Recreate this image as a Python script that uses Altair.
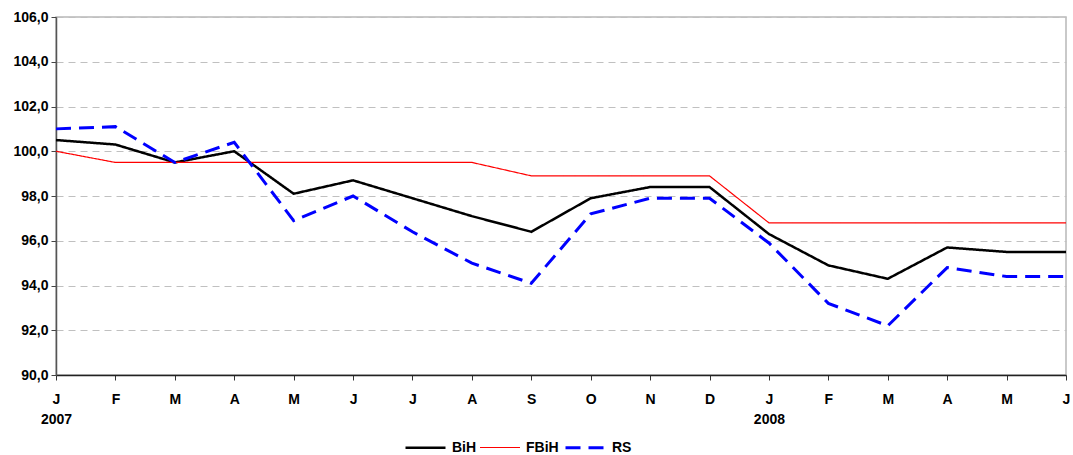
import json
import altair as alt
import pandas as pd

# Month letters along the x axis; the year is printed under each January
months = ["J", "F", "M", "A", "M", "J", "J", "A", "S", "O", "N", "D",
          "J", "F", "M", "A", "M", "J"]
years = {0: "2007", 12: "2008"}

series_names = ["BiH", "FBiH", "RS"]

bih = [100.5, 100.3, 99.5, 100.0, 98.1, 98.7, 97.9, 97.1, 96.4, 97.9, 98.4, 98.4,
       96.3, 94.9, 94.3, 95.7, 95.5, 95.5]
fbih = [100.0, 99.5, 99.5, 99.5, 99.5, 99.5, 99.5, 99.5, 98.9, 98.9, 98.9, 98.9,
        96.8, 96.8, 96.8, 96.8, 96.8, 96.8]
rs = [101.0, 101.1, 99.5, 100.4, 96.9, 98.0, 96.4, 95.0, 94.1, 97.2, 97.9, 97.9,
      95.9, 93.2, 92.2, 94.8, 94.4, 94.4]

rows = []
for name, vals in zip(series_names, [bih, fbih, rs]):
    for i, v in enumerate(vals):
        rows.append({"idx": i, "series": name, "value": v})
df = pd.DataFrame(rows)

# Axis labels: single letter, or letter + year on a second line
tick_labels = [[m, years[i]] if i in years else m for i, m in enumerate(months)]
label_expr = json.dumps(tick_labels) + "[datum.value]"

FONT = "Liberation Sans"

chart = alt.Chart(df).mark_line(strokeJoin="miter").encode(
    x=alt.X("idx:Q",
            scale=alt.Scale(domain=[0, len(months) - 1], nice=False, zero=False),
            axis=alt.Axis(values=list(range(len(months))), labelExpr=label_expr,
                          title=None, grid=False, tickSize=5, tickColor="#333333",
                          domainColor="#222222", domainWidth=1.5,
                          labelFont=FONT, labelFontSize=14, labelFontWeight="bold",
                          labelColor="#000000", labelPadding=12, labelLineHeight=20,
                          labelOverlap=False, labelFlush=False, labelBound=False)),
    y=alt.Y("value:Q",
            scale=alt.Scale(domain=[90, 106], nice=False, zero=False),
            axis=alt.Axis(values=[90, 92, 94, 96, 98, 100, 102, 104, 106],
                          labelExpr="replace(format(datum.value, '.1f'), '.', ',')",
                          title=None, grid=True, gridColor="#c0c0c0", gridDash=[7, 5],
                          gridWidth=1, tickSize=5, tickColor="#444444",
                          domainColor="#555555", domainWidth=1.5,
                          labelFont=FONT, labelFontSize=14, labelFontWeight="bold",
                          labelColor="#000000", labelPadding=3)),
    color=alt.Color("series:N",
                    scale=alt.Scale(domain=series_names,
                                    range=["#000000", "#ff0000", "#0000ff"]),
                    legend=alt.Legend(title=None, orient="none", direction="horizontal",
                                      legendX=348, legendY=409,
                                      symbolType="stroke", symbolSize=1600,
                                      labelFont=FONT, labelFontSize=14,
                                      labelFontWeight="bold", labelColor="#000000",
                                      labelOffset=5, columnPadding=0)),
    strokeDash=alt.StrokeDash("series:N",
                              scale=alt.Scale(domain=series_names,
                                              range=[[1, 0], [1, 0], [15, 8]]),
                              legend=alt.Legend(title=None)),
    strokeWidth=alt.StrokeWidth("series:N",
                                scale=alt.Scale(type="ordinal", domain=series_names,
                                                range=[2.5, 1.2, 3]),
                                legend=alt.Legend(title=None)),
).properties(
    width=1010,
    height=358,
    padding={"left": 56, "top": 17, "right": 7, "bottom": 80},
    autosize=alt.AutoSizeParams(type="none"),
    background="#ffffff",
).configure_view(
    stroke="#b8b8b8",
    strokeWidth=1.5,
)

chart.save("out.html", embed_options={"renderer": "svg", "actions": False})
